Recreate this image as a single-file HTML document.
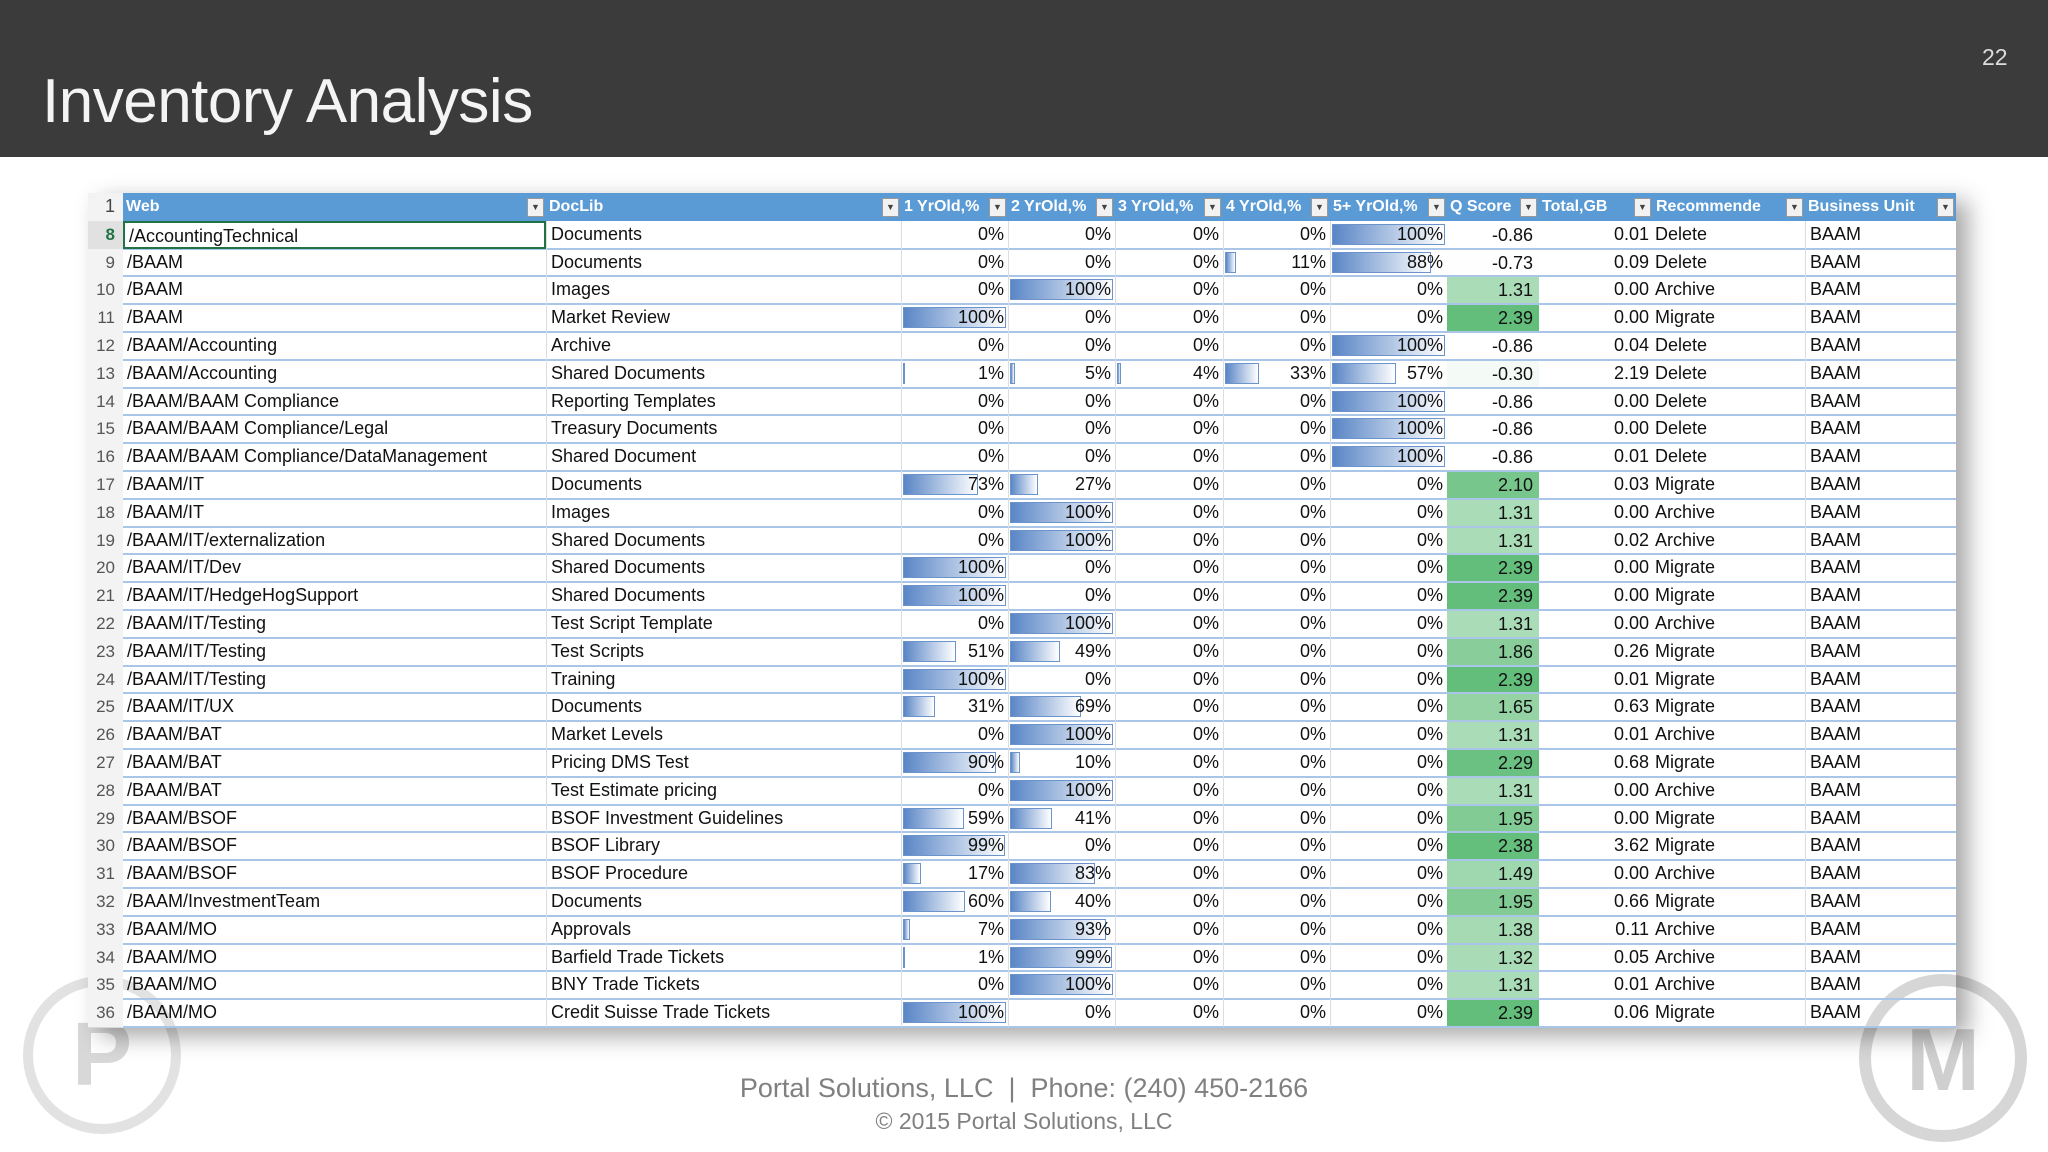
<!DOCTYPE html>
<html><head><meta charset="utf-8">
<style>
body{margin:0;width:2048px;height:1152px;background:#fff;position:relative;overflow:hidden;font-family:"Liberation Sans",sans-serif}
#top{position:absolute;left:0;top:0;width:2048px;height:157px;background:#3b3b3b}
#title{position:absolute;left:42px;top:66px;font-size:62px;color:#f4f4f4;font-weight:normal;letter-spacing:-0.5px}
#pnum{position:absolute;left:1982px;top:44px;font-size:23px;color:#ddd}
#tbl{position:absolute;left:88px;top:193px;width:1868px;height:835px;box-shadow:12px 8px 22px rgba(0,0,0,0.35)}
.c{position:absolute;height:27.8px;line-height:27.8px;font-size:18px;color:#111;white-space:nowrap;overflow:hidden;box-sizing:border-box}
.h{color:#fff;font-weight:bold;font-size:16px}
.dd{position:absolute;width:15px;height:17px;background:#f2f2f2;border:1px solid #999;top:5px;font-size:9px;line-height:17px;text-align:center;color:#444}
.bar{position:absolute;top:3px;height:21px;background:linear-gradient(90deg,#5a86c6,#ffffff);border:1px solid #6b93cc;box-sizing:border-box}
.foot{position:absolute;width:2048px;text-align:center;color:#808080}
</style></head><body>
<div id="top"></div>
<div id="title">Inventory Analysis</div>
<div id="pnum">22</div>
<svg style="position:absolute;left:0;top:960px" width="2048" height="192">
<circle cx="102" cy="95" r="74" fill="none" stroke="#e2e2e2" stroke-width="10"/>
<text x="102" y="125" font-size="90" font-weight="bold" fill="#d8d8d8" text-anchor="middle" font-family="Liberation Sans">P</text>
<circle cx="1943" cy="98" r="78" fill="none" stroke="#d6d6d6" stroke-width="12"/>
<text x="1943" y="130" font-size="88" font-weight="bold" fill="#cfcfcf" text-anchor="middle" font-family="Liberation Sans">M</text>
</svg>
<div id="tbl"></div>
<div class="foot" style="top:1073px;font-size:27px">Portal Solutions, LLC &nbsp;|&nbsp; Phone: (240) 450-2166</div>
<div class="foot" style="top:1108px;font-size:23px">© 2015 Portal Solutions, LLC</div>
<script>
const headers=["Web","DocLib","1 YrOld,%","2 YrOld,%","3 YrOld,%","4 YrOld,%","5+ YrOld,%","Q Score","Total,GB","Recommende","Business Unit"];
const rowNums=[8,9,10,11,12,13,14,15,16,17,18,19,20,21,22,23,24,25,26,27,28,29,30,31,32,33,34,35,36];
const webs=["/AccountingTechnical","/BAAM","/BAAM","/BAAM","/BAAM/Accounting","/BAAM/Accounting","/BAAM/BAAM Compliance","/BAAM/BAAM Compliance/Legal","/BAAM/BAAM Compliance/DataManagement","/BAAM/IT","/BAAM/IT","/BAAM/IT/externalization","/BAAM/IT/Dev","/BAAM/IT/HedgeHogSupport","/BAAM/IT/Testing","/BAAM/IT/Testing","/BAAM/IT/Testing","/BAAM/IT/UX","/BAAM/BAT","/BAAM/BAT","/BAAM/BAT","/BAAM/BSOF","/BAAM/BSOF","/BAAM/BSOF","/BAAM/InvestmentTeam","/BAAM/MO","/BAAM/MO","/BAAM/MO","/BAAM/MO"];
const docLibs=["Documents","Documents","Images","Market Review","Archive","Shared Documents","Reporting Templates","Treasury Documents","Shared Document","Documents","Images","Shared Documents","Shared Documents","Shared Documents","Test Script Template","Test Scripts","Training","Documents","Market Levels","Pricing DMS Test","Test Estimate pricing","BSOF Investment Guidelines","BSOF Library","BSOF Procedure","Documents","Approvals","Barfield Trade Tickets","BNY Trade Tickets","Credit Suisse Trade Tickets"];
const yr1=[0,0,0,100,0,1,0,0,0,73,0,0,100,100,0,51,100,31,0,90,0,59,99,17,60,7,1,0,100];
const yr2=[0,0,100,0,0,5,0,0,0,27,100,100,0,0,100,49,0,69,100,10,100,41,0,83,40,93,99,100,0];
const yr3=[0,0,0,0,0,4,0,0,0,0,0,0,0,0,0,0,0,0,0,0,0,0,0,0,0,0,0,0,0];
const yr4=[0,11,0,0,0,33,0,0,0,0,0,0,0,0,0,0,0,0,0,0,0,0,0,0,0,0,0,0,0];
const yr5=[100,88,0,0,100,57,100,100,100,0,0,0,0,0,0,0,0,0,0,0,0,0,0,0,0,0,0,0,0];
const qScores=[-0.86,-0.73,1.31,2.39,-0.86,-0.30,-0.86,-0.86,-0.86,2.10,1.31,1.31,2.39,2.39,1.31,1.86,2.39,1.65,1.31,2.29,1.31,1.95,2.38,1.49,1.95,1.38,1.32,1.31,2.39];
const totals=[0.01,0.09,0.00,0.00,0.04,2.19,0.00,0.00,0.01,0.03,0.00,0.02,0.00,0.00,0.00,0.26,0.01,0.63,0.01,0.68,0.00,0.00,3.62,0.00,0.66,0.11,0.05,0.01,0.06];
const recs=["Delete","Delete","Archive","Migrate","Delete","Delete","Delete","Delete","Delete","Migrate","Archive","Archive","Migrate","Migrate","Archive","Migrate","Migrate","Migrate","Archive","Migrate","Archive","Migrate","Migrate","Archive","Migrate","Archive","Archive","Archive","Migrate"];
const units=rowNums.map(()=> "BAAM");

const colX=[88,123,546,901,1008,1115,1223,1330,1447,1539,1653,1805,1956];
const top0=193,rh=27.8;
const T=document.body;
function mk(cls,x,y,w,txt){const d=document.createElement('div');d.className=cls;d.style.left=x+'px';d.style.top=y+'px';d.style.width=w+'px';if(txt!==undefined)d.textContent=txt;T.appendChild(d);return d;}
const hb=document.createElement('div');


hb.style.cssText=`position:absolute;left:123px;top:${top0}px;width:1833px;height:${rh}px;background:#5b9bd5`;
T.appendChild(hb);
const bg=document.createElement('div');


bg.style.cssText=`position:absolute;left:88px;top:${top0}px;width:1868px;height:${rh*30}px;background:#fff;z-index:-1`;
T.appendChild(bg);
const rn=mk('c',88,top0,35,'1');rn.style.textAlign='right';rn.style.paddingRight='8px';rn.style.color='#444';rn.style.background='#f3f3f3';


headers.forEach((h,i)=>{
  const x=colX[i+1],w=colX[i+2]-x;
  const d=mk('c h',x,top0,w,h);d.style.paddingLeft='3px';
  
  
  const dd=document.createElement('div');dd.className='dd';dd.style.left=(x+w-19)+'px';dd.style.top=(top0+5)+'px';dd.textContent='▼';T.appendChild(dd);
  
  
});
const pcts=[yr1,yr2,yr3,yr4,yr5];
const qmin=Math.min(...qScores),qmax=Math.max(...qScores);
function qcol(v){let t=(v-qmin)/(qmax-qmin);t=Math.pow(t,1.5);const r=Math.round(255+(99-255)*t),g=Math.round(255+(190-255)*t),b=Math.round(255+(123-255)*t);return `rgb(${r},${g},${b})`;}
rowNums.forEach((n,r)=>{
  const y=top0+rh*(r+1);
  const line=document.createElement('div');
  
  
  line.style.cssText=`position:absolute;left:123px;top:${y+rh-1}px;width:1833px;height:2px;background:#a9c6e8`;
  T.appendChild(line);
  const num=mk('c',88,y,35,String(n));num.style.textAlign='right';num.style.paddingRight='8px';num.style.color='#555';num.style.background='#f3f3f3';num.style.fontSize='17px';
  if(r===0){num.style.color='#217346';num.style.fontWeight='bold';num.style.background='#e1e1e1';}
  
  
  const w=mk('c',colX[1],y,colX[2]-colX[1],webs[r]);w.style.paddingLeft='4px';
  
  
  if(r===0){w.style.border='2px solid #217346';}
  const dl=mk('c',colX[2],y,colX[3]-colX[2],docLibs[r]);dl.style.paddingLeft='4px';dl.style.borderLeft='1px solid #ddd';
  
  
  pcts.forEach((arr,k)=>{
    const x=colX[3+k],cw=colX[4+k]-x,v=arr[r];
    if(v>0){const b=document.createElement('div');b.className='bar';b.style.left=(x+2)+'px';b.style.top=(y+3)+'px';b.style.width=Math.max(2,(cw-4)*v/100)+'px';T.appendChild(b);
      
      }
    const c=mk('c',x,y,cw,v+'%');c.style.textAlign='right';c.style.paddingRight='4px';c.style.borderLeft='1px solid #ddd';
    
    
  });
  const q=mk('c',colX[8],y+1,colX[9]-colX[8],qScores[r].toFixed(2));q.style.height=(rh-2)+'px';q.style.textAlign='right';q.style.paddingRight='6px';q.style.background=qcol(qScores[r]);
  
  
  const tg=mk('c',colX[9],y,colX[10]-colX[9],totals[r].toFixed(2));tg.style.textAlign='right';tg.style.paddingRight='4px';
  
  
  const rc=mk('c',colX[10],y,colX[11]-colX[10],recs[r]);rc.style.paddingLeft='2px';
  
  
  const bu=mk('c',colX[11],y,colX[12]-colX[11],units[r]);bu.style.paddingLeft='4px';bu.style.borderLeft='1px solid #ddd';
  
  
});
</script>
</body></html>
